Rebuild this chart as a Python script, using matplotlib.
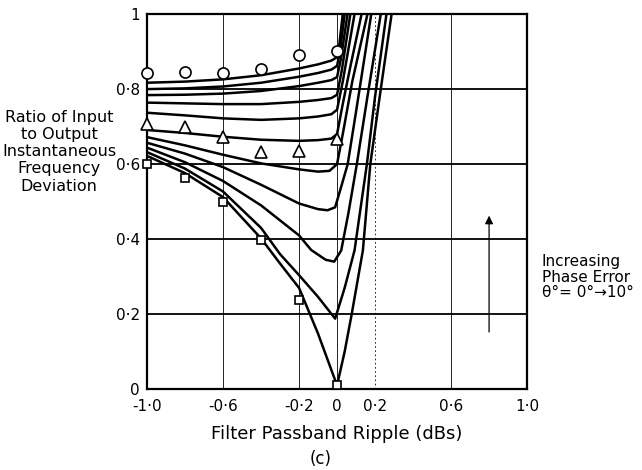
import matplotlib
matplotlib.use("Agg")
import matplotlib.pyplot as plt

# ---- data -------------------------------------------------------------
x_ticks = [-1.0, -0.6, -0.2, 0.0, 0.2, 0.6, 1.0]
x_tick_labels = ["-1·0", "-0·6", "-0·2", "0", "0·2", "0·6", "1·0"]
y_ticks = [0.0, 0.2, 0.4, 0.6, 0.8, 1.0]
y_tick_labels = ["0", "0·2", "0·4", "0·6", "0·8", "1"]

# curves, phase error theta = 0 deg (lowest) ... 10 deg (highest)
c0_x = [-1.0, -0.8, -0.6, -0.4, -0.3, -0.2, -0.1, 0.0, 0.04, 0.076, 0.136, 0.175, 0.23, 0.287]
c0_y = [0.622, 0.576, 0.512, 0.402, 0.335, 0.27, 0.148, 0.01, 0.1, 0.197, 0.37, 0.60, 0.80, 1.0]
c1_x = [-1.0, -0.8, -0.6, -0.4, -0.3, -0.2, -0.1, -0.01, 0.04, 0.092, 0.157, 0.2, 0.26]
c1_y = [0.632, 0.588, 0.527, 0.43, 0.36, 0.304, 0.246, 0.188, 0.27, 0.37, 0.60, 0.78, 1.0]
c2_x = [-1.0, -0.8, -0.6, -0.4, -0.2, -0.136, -0.06, -0.015, 0.022, 0.06, 0.104, 0.16, 0.23]
c2_y = [0.644, 0.605, 0.555, 0.49, 0.41, 0.371, 0.345, 0.34, 0.37, 0.47, 0.60, 0.78, 1.0]
c3_x = [-1.0, -0.8, -0.6, -0.4, -0.2, -0.1, -0.05, -0.01, 0.022, 0.056, 0.1, 0.18]
c3_y = [0.657, 0.628, 0.592, 0.545, 0.495, 0.480, 0.477, 0.485, 0.54, 0.60, 0.74, 1.0]
c4_x = [-1.0, -0.8, -0.6, -0.4, -0.2, -0.1, -0.04, 0.0, 0.03, 0.08, 0.16]
c4_y = [0.672, 0.650, 0.625, 0.602, 0.586, 0.580, 0.582, 0.60, 0.68, 0.82, 1.0]
c5_x = [-1.0, -0.8, -0.6, -0.4, -0.2, -0.1, -0.03, 0.0, 0.03, 0.07, 0.129]
c5_y = [0.691, 0.683, 0.673, 0.665, 0.662, 0.664, 0.668, 0.68, 0.76, 0.86, 1.0]
c6_x = [-1.0, -0.8, -0.6, -0.4, -0.2, -0.1, -0.03, 0.0, 0.03, 0.092]
c6_y = [0.737, 0.730, 0.722, 0.718, 0.722, 0.727, 0.733, 0.745, 0.82, 1.0]
c7_x = [-1.0, -0.8, -0.6, -0.4, -0.2, -0.1, -0.03, 0.0, 0.025, 0.07]
c7_y = [0.764, 0.762, 0.760, 0.760, 0.766, 0.771, 0.776, 0.785, 0.85, 1.0]
c8_x = [-1.0, -0.8, -0.6, -0.4, -0.2, -0.1, -0.03, 0.0, 0.02, 0.055]
c8_y = [0.784, 0.785, 0.788, 0.795, 0.808, 0.817, 0.824, 0.832, 0.88, 1.0]
c9_x = [-1.0, -0.8, -0.6, -0.4, -0.2, -0.1, -0.03, 0.0, 0.015, 0.04]
c9_y = [0.800, 0.802, 0.807, 0.817, 0.833, 0.843, 0.852, 0.862, 0.90, 1.0]
c10_x = [-1.0, -0.8, -0.6, -0.4, -0.2, -0.1, -0.03, 0.0, 0.01, 0.03]
c10_y = [0.817, 0.820, 0.826, 0.837, 0.855, 0.866, 0.876, 0.885, 0.91, 1.0]

curves_x = [c0_x, c1_x, c2_x, c3_x, c4_x, c5_x, c6_x, c7_x, c8_x, c9_x, c10_x]
curves_y = [c0_y, c1_y, c2_y, c3_y, c4_y, c5_y, c6_y, c7_y, c8_y, c9_y, c10_y]

# measured points
circle_x = [-1.0, -0.8, -0.6, -0.4, -0.2, 0.0]
circle_y = [0.843, 0.846, 0.842, 0.853, 0.891, 0.902]
triangle_x = [-1.0, -0.8, -0.6, -0.4, -0.2, 0.0]
triangle_y = [0.708, 0.699, 0.671, 0.633, 0.636, 0.666]
square_x = [-1.0, -0.8, -0.6, -0.4, -0.2, 0.0]
square_y = [0.60, 0.562, 0.50, 0.397, 0.239, 0.01]

arrow_x = 0.8
arrow_y_start = 0.145
arrow_y_end = 0.47

# ---- figure -------------------------------------------------------------
plt.rcParams['font.family'] = ['DejaVu Sans']
fig = plt.figure(figsize=(6.42, 4.70), dpi=100)
ax = fig.add_axes([0.229, 0.172, 0.592, 0.798])
ax.set_xlim(-1.0, 1.0)
ax.set_ylim(0.0, 1.0)

# grid
for gy in [0.2, 0.4, 0.6, 0.8]:
    ax.axhline(gy, color='black', lw=1.3, zorder=1)
for gx in [-0.6, -0.2, 0.0, 0.6]:
    ax.axvline(gx, color='black', lw=0.6, zorder=1)
ax.axvline(0.2, color='black', lw=0.6, ls=(0, (2, 3)), zorder=1)

for cx, cy in zip(curves_x, curves_y):
    ax.plot(cx, cy, color='black', lw=1.8, solid_joinstyle='round',
            solid_capstyle='round', zorder=3)

ax.plot(circle_x, circle_y, ls='none', marker='o', ms=8, mfc='white',
        mec='black', mew=1.2, zorder=5, clip_on=False)
ax.plot(triangle_x, triangle_y, ls='none', marker='^', ms=8.5, mfc='white',
        mec='black', mew=1.2, zorder=5, clip_on=False)
ax.plot(square_x, square_y, ls='none', marker='s', ms=6, mfc='white',
        mec='black', mew=1.2, zorder=5, clip_on=False)

ax.annotate('', xy=(arrow_x, arrow_y_end), xytext=(arrow_x, arrow_y_start),
            arrowprops=dict(arrowstyle='-|>', color='black', lw=0.9,
                            mutation_scale=12))

for side in ['left', 'bottom', 'top', 'right']:
    ax.spines[side].set_linewidth(1.6)
    ax.spines[side].set_zorder(4)

ax.set_xticks(x_ticks)
ax.set_xticklabels(x_tick_labels, fontsize=11)
ax.set_yticks(y_ticks)
ax.set_yticklabels(y_tick_labels, fontsize=11)
ax.tick_params(axis='x', length=0, pad=7)
ax.tick_params(axis='y', length=0, pad=5)

ax.set_xlabel('Filter Passband Ripple (dBs)', fontsize=13, labelpad=8)

fig.text(0.092, 0.677, 'Ratio of Input\nto Output\nInstantaneous\nFrequency\nDeviation',
         ha='center', va='center', fontsize=11.5, linespacing=1.18)
fig.text(0.844, 0.41, 'Increasing\nPhase Error\nθ°= 0°→10°',
         ha='left', va='center', fontsize=11, linespacing=1.05)
fig.text(0.50, 0.004, '(c)', ha='center', va='bottom', fontsize=12)

fig.savefig('out.png', dpi=100)
